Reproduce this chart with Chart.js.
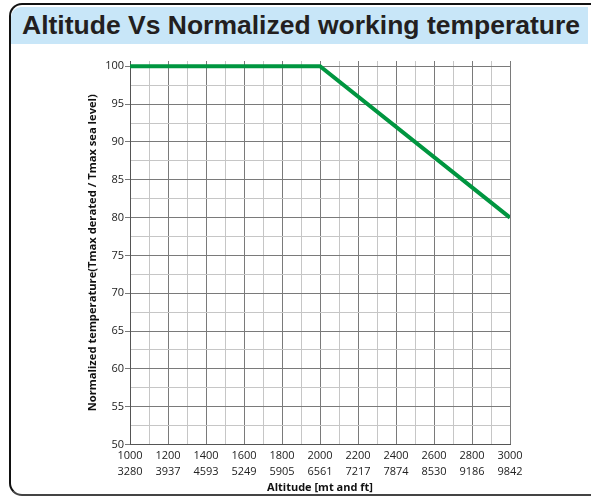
<!DOCTYPE html>
<html>
<head>
<meta charset="utf-8">
<script src="https://cdn.jsdelivr.net/npm/chart.js@4.4.1/dist/chart.umd.min.js"></script>
<style>
  html,body{margin:0;padding:0;background:#fff;width:591px;height:498px;overflow:hidden;}
  #frame{position:absolute;left:9px;top:3px;width:600px;height:489px;border:2.5px solid #111;border-bottom:2px solid #444;border-radius:13px;box-sizing:content-box;}
  #band{position:absolute;left:11px;top:7px;width:577px;height:37px;background:#c8e6f8;border-top-left-radius:10px;}
  #title{position:absolute;left:22px;top:9px;font-family:"Liberation Sans",Arial,sans-serif;font-weight:bold;font-size:26.5px;color:#231f20;white-space:nowrap;line-height:33px;}
  #wrap{position:absolute;left:0;top:0;width:591px;height:498px;}
</style>
</head>
<body>
<div id="frame"></div>
<div id="band"></div>
<div id="title">Altitude Vs Normalized working temperature</div>
<div id="wrap"><canvas id="c" width="591" height="498"></canvas></div>
<script>
// Data
const altitudeMt = [1000, 2000, 3000];
const normTemp = [100, 100, 80];
// Tick labels
const xTickMt = [1000, 1200, 1400, 1600, 1800, 2000, 2200, 2400, 2600, 2800, 3000];
const xTickFt = [3280, 3937, 4593, 5249, 5905, 6561, 7217, 7874, 8530, 9186, 9842];
const yTickLabels = [50, 55, 60, 65, 70, 75, 80, 85, 90, 95, 100];

const majorColor = '#7a7a7a';
const minorColor = '#c6c6c6';
const font = "'Open Sans', 'Noto Sans', sans-serif";

new Chart(document.getElementById('c'), {
  type: 'line',
  data: {
    datasets: [{
      data: altitudeMt.map((x, i) => ({x: x, y: normTemp[i]})),
      borderColor: '#009640',
      borderWidth: 4,
      pointRadius: 0,
      fill: false,
      tension: 0
    }]
  },
  options: {
    responsive: false,
    animation: false,
    devicePixelRatio: 1,
    layout: {padding: {left: 86, right: 81, top: 61, bottom: 4}},
    plugins: {legend: {display: false}, tooltip: {enabled: false}},
    scales: {
      x: {
        type: 'linear',
        min: 1000, max: 3000,
        afterBuildTicks: s => {
          const t = [];
          for (let v = 1000; v <= 3000; v += 100) t.push({value: v});
          s.ticks = t;
        },
        afterFit: s => { s.height = 49.5; },
        grid: {
          color: c => (c.tick && c.tick.value % 200 === 0) ? majorColor : minorColor,
          lineWidth: 1,
          drawTicks: false
        },
        border: {color: '#555', width: 1},
        ticks: {
          autoSkip: false,
          maxRotation: 0,
          padding: 4,
          color: '#222',
          font: {family: font, size: 11, lineHeight: 1.4},
          callback: v => {
            const i = xTickMt.indexOf(v);
            return i >= 0 ? [String(xTickMt[i]), String(xTickFt[i])] : '';
          }
        },
        title: {
          display: true,
          text: 'Altitude [mt and ft]',
          color: '#111',
          font: {family: font, size: 11, weight: 'bold'},
          padding: {top: 0, bottom: 0}
        }
      },
      y: {
        type: 'linear',
        min: 50, max: 100.7,
        afterBuildTicks: s => {
          const t = [];
          for (let v = 50; v <= 100; v += 2.5) t.push({value: v});
          s.ticks = t;
        },
        afterFit: s => { s.width = 44; },
        grid: {
          color: c => (c.tick && c.tick.value % 5 === 0) ? majorColor : minorColor,
          tickColor: c => (c.tick && c.tick.value % 5 === 0) ? majorColor : 'rgba(0,0,0,0)',
          lineWidth: 1,
          tickLength: 5
        },
        border: {color: '#555', width: 1},
        ticks: {
          autoSkip: false,
          padding: 1,
          color: '#222',
          font: {family: font, size: 11},
          callback: v => yTickLabels.includes(v) ? String(v) : ''
        },
        title: {
          display: true,
          text: 'Normalized temperature(Tmax derated / Tmax sea level)',
          color: '#111',
          font: {family: font, size: 11.2, weight: 'bold'},
          padding: {top: 0, bottom: 0}
        }
      }
    }
  }
});
</script>
</body>
</html>
